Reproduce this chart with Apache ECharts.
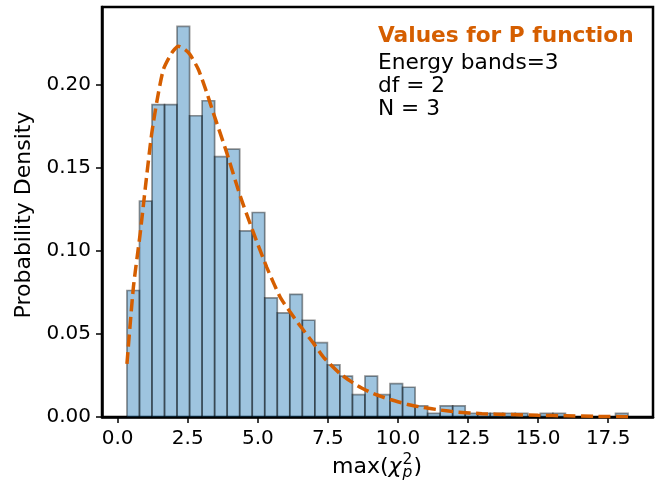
<!DOCTYPE html>
<html>
<head>
<meta charset="utf-8">
<script src="https://cdn.jsdelivr.net/npm/echarts@6/dist/echarts.min.js"></script>
<style>
  html, body { margin: 0; padding: 0; background: #fff; }
  #chart { width: 665px; height: 487px; }
</style>
</head>
<body>
<div id="chart"></div>
<script>
// histogram bins (left edge of first bin + width), densities
const binStart = 0.33;
const binWidth = 0.447;
const densities = [
  0.0761, 0.1298, 0.1879, 0.1879, 0.2349, 0.1812, 0.1902, 0.1566, 0.1611, 0.1119,
  0.1230, 0.0716, 0.0626, 0.0738, 0.0582, 0.0447, 0.0313, 0.0246, 0.0134, 0.0246,
  0.0134, 0.0201, 0.0179, 0.0067, 0.0022, 0.0067, 0.0067, 0.0022, 0.0022, 0.0022,
  0.0022, 0.0022, 0, 0.0022, 0.0022, 0, 0, 0, 0, 0.0022
];

// dashed density curve
const curveX = [0.33, 0.56, 0.80, 1.00, 1.21, 1.40, 1.63, 1.93, 2.16, 2.40, 2.58, 2.88, 3.20, 3.41,
  3.89, 4.37, 4.84, 5.32, 5.80, 6.16, 6.50, 7.00, 7.34, 7.94, 8.54, 9.13, 9.72, 10.32, 10.91,
  11.51, 12.10, 13.00, 14.00, 15.00, 16.00, 17.00, 18.21];
const curveY = [0.032, 0.078, 0.110, 0.140, 0.170, 0.190, 0.209, 0.219, 0.223, 0.221, 0.218, 0.209,
  0.194, 0.183, 0.159, 0.133, 0.111, 0.090, 0.072, 0.063, 0.055, 0.044, 0.036, 0.026, 0.019,
  0.014, 0.0105, 0.0077, 0.0057, 0.0042, 0.003, 0.002, 0.0015, 0.001, 0.0007, 0.0004, 0.0002];

const xTicks = [0, 2.5, 5, 7.5, 10, 12.5, 15, 17.5];
const yTicks = [0, 0.05, 0.10, 0.15, 0.20];

const infoTitle = "Values for P function";
const infoLines = ["Energy bands=3", "df = 2", "N = 3"];

const FONT = "DejaVu Sans";
const ORANGE = "#d55e00";

let histData = densities.map((d, i) => [binStart + i * binWidth, binStart + (i + 1) * binWidth, d]);
let curveData = curveX.map((x, i) => [x, curveY[i]]);

let chart = echarts.init(document.getElementById("chart"), null, { renderer: "canvas" });

// measure text for the x axis label pieces
let ctx = document.createElement("canvas").getContext("2d");
function textW(t, font) {
  ctx.font = font;
  return ctx.measureText(t).width;
}

function xLabelGraphic() {
  let fs = 22, small = 15.5;
  let fMain = fs + "px '" + FONT + "'";
  let fItal = "italic " + fs + "px '" + FONT + "'";
  let fSmall = small + "px '" + FONT + "'";
  let fSmallI = "italic " + small + "px '" + FONT + "'";
  let w1 = textW("max(", fMain), w2 = textW("χ", fItal) + 1;
  let w3 = Math.max(textW("2", fSmall), textW("p", fSmallI)) + 1;
  let w4 = textW(")", fMain);
  let total = w1 + w2 + w3 + w4;
  let x0 = 377 - total / 2;
  let base = 475;
  let mid = base - 0.346 * fs;
  let parts = [
    { t: "max(", x: x0, y: mid, f: fMain },
    { t: "χ", x: x0 + w1, y: mid, f: fItal },
    { t: "2", x: x0 + w1 + w2, y: base - 10 - 0.346 * small, f: fSmall },
    { t: "p", x: x0 + w1 + w2, y: base + 3 - 0.346 * small, f: fSmallI },
    { t: ")", x: x0 + w1 + w2 + w3, y: mid, f: fMain }
  ];
  return parts.map(p => ({
    type: "text",
    x: p.x,
    y: p.y,
    style: { text: p.t, font: p.f, fill: "#000", textAlign: "left", textVerticalAlign: "middle" }
  }));
}

let graphics = xLabelGraphic();
graphics.push({
  type: "text",
  x: 24,
  y: 215,
  rotation: Math.PI / 2,
  style: { text: "Probability Density", font: "22px '" + FONT + "'", fill: "#000", textAlign: "center", textVerticalAlign: "middle" }
});
graphics.push({
  type: "text",
  x: 378,
  y: 43.5 - 7.5,
  style: { text: infoTitle, font: "bold 21.7px '" + FONT + "'", fill: ORANGE, textAlign: "left", textVerticalAlign: "middle" }
});
infoLines.forEach((t, i) => {
  graphics.push({
    type: "text",
    x: 378,
    y: 71 + i * 23 - 7.5,
    style: { text: t, font: "21.7px '" + FONT + "'", fill: "#000", textAlign: "left", textVerticalAlign: "middle" }
  });
});

let option = {
  animation: false,
  backgroundColor: "#fff",
  grid: {
    left: 102,
    top: 7,
    width: 551,
    height: 410,
    show: true,
    borderColor: "#000",
    borderWidth: 2.5,
    backgroundColor: "transparent"
  },
  xAxis: {
    type: "value",
    min: -0.56,
    max: 19.1,
    splitLine: { show: false },
    axisLine: { show: true, onZero: false, lineStyle: { color: "#000", width: 2.5 } },
    axisTick: { show: true, customValues: xTicks, length: 6, lineStyle: { color: "#000", width: 1.5 } },
    axisLabel: {
      customValues: xTicks,
      margin: 12,
      color: "#000",
      fontFamily: FONT,
      fontSize: 20,
      formatter: v => v.toFixed(1)
    }
  },
  yAxis: {
    type: "value",
    min: 0,
    max: 0.2466,
    splitLine: { show: false },
    axisLine: { show: true, onZero: false, lineStyle: { color: "#000", width: 2.5 } },
    axisTick: { show: true, customValues: yTicks, length: 6, lineStyle: { color: "#000", width: 1.5 } },
    axisLabel: {
      customValues: yTicks,
      margin: 11,
      color: "#000",
      fontFamily: FONT,
      fontSize: 20,
      formatter: v => v.toFixed(2)
    }
  },
  series: [
    {
      type: "custom",
      clip: true,
      data: histData,
      encode: { x: [0, 1], y: 2 },
      renderItem: function (params, api) {
        if (!api.value(2)) return null;
        let p0 = api.coord([api.value(0), api.value(2)]);
        let p1 = api.coord([api.value(1), 0]);
        return {
          type: "rect",
          shape: { x: p0[0], y: p0[1], width: p1[0] - p0[0], height: p1[1] - p0[1] },
          style: { fill: "rgba(31,119,180,0.43)", stroke: "rgba(0,0,0,0.42)", lineWidth: 1.7 }
        };
      },
      z: 2
    },
    {
      type: "line",
      data: curveData,
      showSymbol: false,
      smooth: 0.2,
      lineStyle: { color: ORANGE, width: 3.5, type: [12, 5.5] },
      z: 3
    }
  ],
  graphic: graphics
};

chart.setOption(option);
</script>
</body>
</html>
